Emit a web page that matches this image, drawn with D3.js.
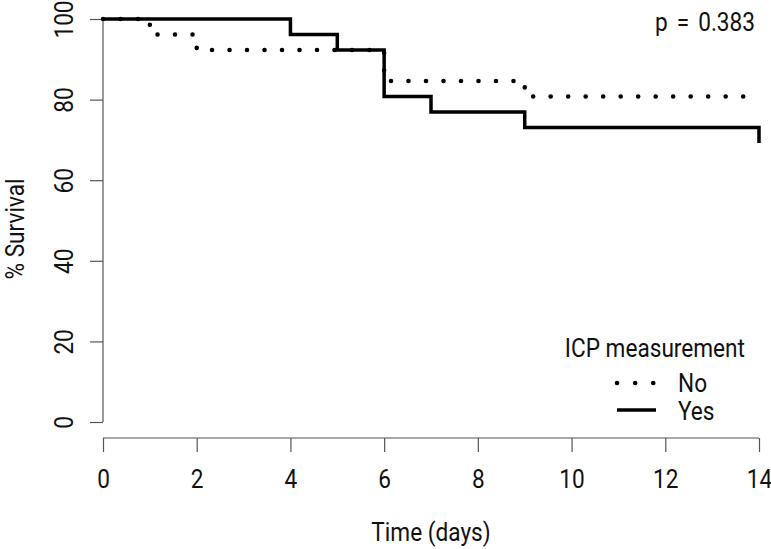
<!DOCTYPE html>
<html>
<head>
<meta charset="utf-8">
<script src="https://cdn.jsdelivr.net/npm/d3@7"></script>
<style>
  body { margin: 0; background: #fff; }
  svg text { font-family: "Roboto", "Liberation Sans", sans-serif; fill: #111; }
</style>
</head>
<body>
<svg id="chart" width="771" height="549"></svg>
<script>
// THE DATA
// Kaplan-Meier steps, time in days and % survival
const noTimes = [0, 1, 2, 6, 9, 14];
const noSurv = [100, 96.15, 92.3, 84.6, 80.8, 80.8];
const yesTimes = [0, 4, 5, 6, 7, 9, 14];
const yesSurv = [100, 96.15, 92.3, 80.8, 76.9, 73.1, 69.2];

const xTicks = [0, 2, 4, 6, 8, 10, 12, 14];
const yTicks = [0, 20, 40, 60, 80, 100];
const legendLabels = ["No", "Yes"];
const pText = "p = 0.383";

// SETTING UP
const svg = d3.select("#chart");
const fs = 26;          // font size
const narrow = "scale(0.87,1)"; // fake condensed face

const x = d3.scaleLinear().domain([0, 14]).range([103, 759]);
const y = d3.scaleLinear().domain([0, 100]).range([422, 19]);
const axisY = 438;

// helper for condensed text placed at a point
function label(g, px, py, txt, anchor, rot) {
  return g.append("text")
    .attr("transform", `translate(${px},${py})${rot ? " rotate(-90)" : ""} ${narrow}`)
    .attr("text-anchor", anchor)
    .attr("font-size", fs)
    .text(txt);
}

// x axis, R style (line only across tick range)
const xAxis = svg.append("g")
  .attr("transform", `translate(0,${axisY})`)
  .call(d3.axisBottom(x).tickValues(xTicks).tickSize(14).tickSizeOuter(0));
xAxis.select(".domain").attr("d", `M${x(0)},0H${x(14)}`);
xAxis.selectAll("line, path").attr("stroke", "#555").attr("stroke-width", 1.2);
xAxis.selectAll("text")
  .attr("font-size", fs)
  .style("font-family", null)
  .attr("y", 0).attr("dy", null)
  .attr("fill", "#111")
  .attr("transform", `translate(0,50) ${narrow}`);

// y axis
const yAxis = svg.append("g")
  .attr("transform", `translate(${x(0)},0)`)
  .call(d3.axisLeft(y).tickValues(yTicks).tickSize(13).tickSizeOuter(0));
yAxis.select(".domain").attr("d", `M0,${y(0)}V${y(100)}`);
yAxis.selectAll("line, path").attr("stroke", "#555").attr("stroke-width", 1.2);
yAxis.selectAll("text")
  .attr("font-size", fs)
  .style("font-family", null)
  .attr("x", null).attr("dy", null)
  .attr("fill", "#111")
  .attr("text-anchor", "middle")
  .attr("transform", `translate(-30,0) rotate(-90) ${narrow}`);

// axis titles
label(svg, x(7), 541, "Time (days)", "middle", false);
label(svg, 24, 229, "% Survival", "middle", true);

// CURVES
const line = d3.line()
  .x(d => x(d[0]))
  .y(d => y(d[1]))
  .curve(d3.curveStepAfter);

svg.append("path")
  .datum(d3.zip(yesTimes, yesSurv))
  .attr("d", line)
  .attr("fill", "none")
  .attr("stroke", "#000")
  .attr("stroke-width", 3.5);

svg.append("path")
  .datum(d3.zip(noTimes, noSurv))
  .attr("d", line)
  .attr("fill", "none")
  .attr("stroke", "#000")
  .attr("stroke-width", 4.5)
  .attr("stroke-linecap", "round")
  .attr("stroke-dasharray", "0.1,17.4");

// p value
label(svg, 755, 31, pText, "end", false).attr("word-spacing", 4);

// LEGEND
const legend = svg.append("g");
label(legend, 745, 357, "ICP measurement", "end", false);

legendLabels.forEach((lab, i) => {
  const ly = 383 + i * 27;
  legend.append("line")
    .attr("x1", 617).attr("x2", i === 0 ? 654 : 656)
    .attr("y1", ly).attr("y2", ly)
    .attr("stroke", "#000")
    .attr("stroke-width", i === 0 ? 4.5 : 3.5)
    .attr("stroke-linecap", i === 0 ? "round" : "butt")
    .attr("stroke-dasharray", i === 0 ? "0.1,18" : null);
  label(legend, 678, ly + 9 + i, lab, "start", false);
});
</script>
</body>
</html>
